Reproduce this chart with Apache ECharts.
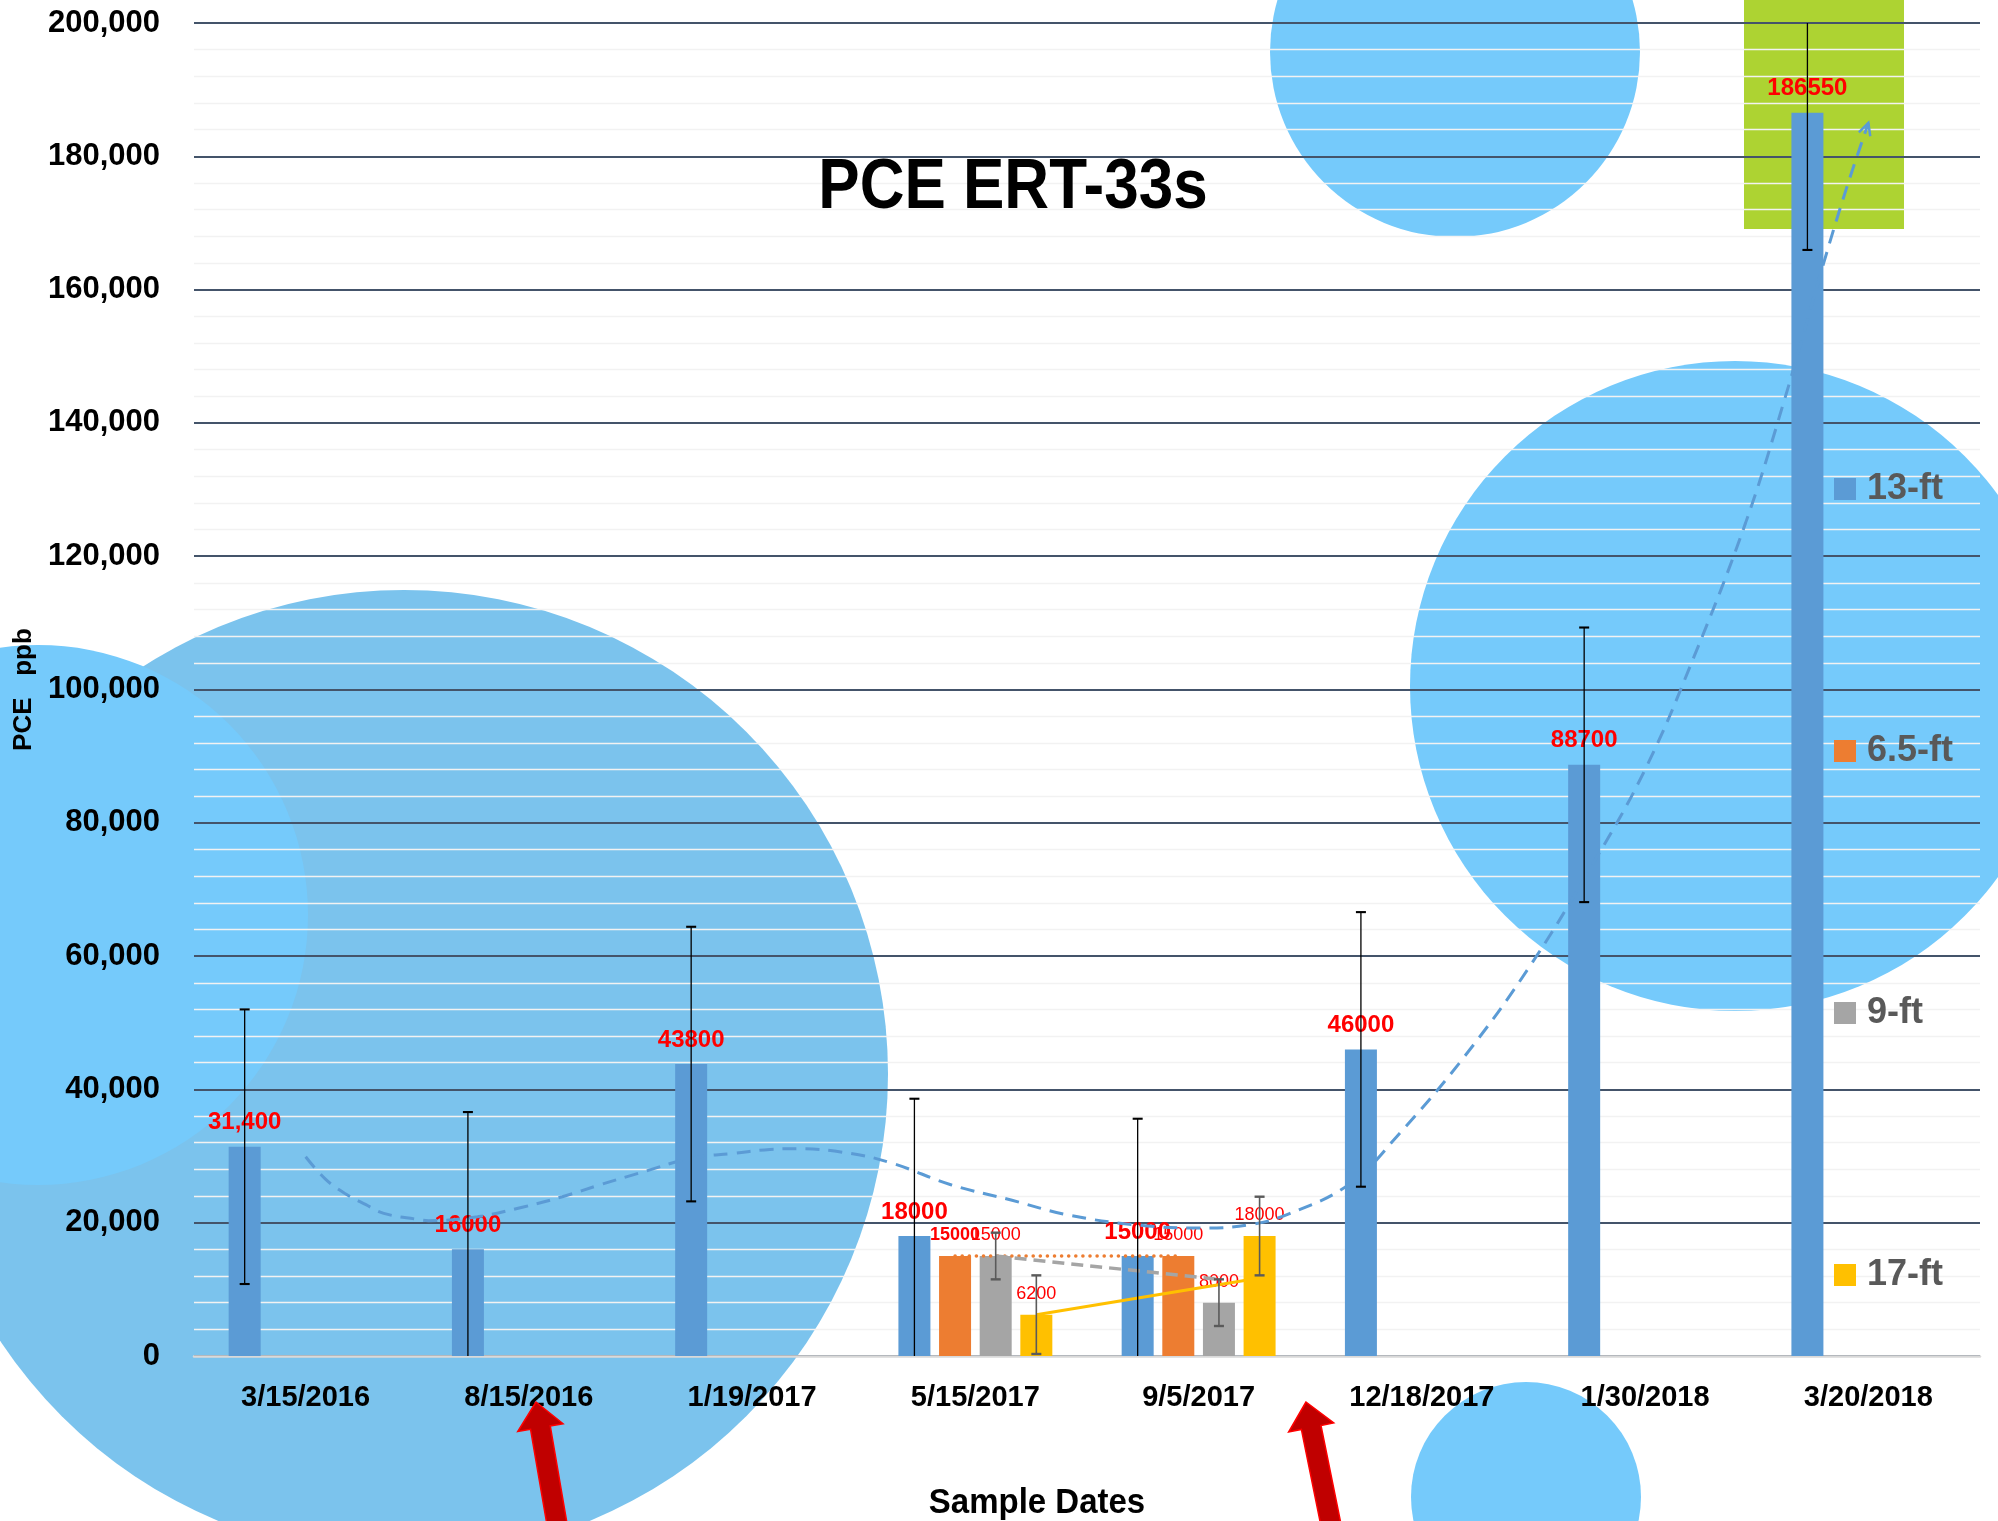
<!DOCTYPE html>
<html>
<head>
<meta charset="utf-8">
<title>PCE ERT-33s</title>
<script src="https://cdn.jsdelivr.net/npm/echarts@6/dist/echarts.min.js"></script>
<style>
  html, body { margin: 0; padding: 0; background: #ffffff; }
  #chart { width: 1998px; height: 1521px; }
</style>
</head>
<body>
<div id="chart"></div>
<script>
// ---- data ----
const categories = ['3/15/2016', '8/15/2016', '1/19/2017', '5/15/2017', '9/5/2017', '12/18/2017', '1/30/2018', '3/20/2018'];
const seriesNames = ['13-ft', '6.5-ft', '9-ft', '17-ft'];
const ft13 = [31400, 16000, 43800, 18000, 15000, 46000, 88700, 186550];
const ft65 = [null, null, null, 15000, 15000, null, null, null];
const ft9  = [null, null, null, 15000, 8000, null, null, null];
const ft17 = [null, null, null, 6200, 18000, null, null, null];
// error bar half-widths (ppb), one per depth
const errorHalf = [20600, 0, 3500, 5900];
// trend of the 13-ft series, x in category units (0 = first date)
const trendX = [0, 0.09, 0.18, 0.27, 0.35, 0.5, 0.55, 0.77, 0.98, 1.15, 1.32, 1.49, 1.73, 1.92, 2.08, 2.2, 2.44, 2.63, 2.89, 3.16, 3.41, 3.71, 4.0, 4.23, 4.41, 4.68, 4.9, 5.19, 5.48, 5.76, 6.0, 6.22, 6.45, 6.62, 6.8, 6.9, 7.0];
const trendY = [29900, 26500, 24300, 22700, 21400, 20500, 20300, 20900, 22400, 23900, 25700, 27400, 29700, 30400, 31000, 31100, 30400, 28900, 25700, 23400, 21200, 19700, 19200, 19700, 21400, 25900, 33400, 44900, 58300, 73500, 88000, 105000, 125000, 143000, 164000, 175000, 185000];
// two-date trends of the shallow/deep samples
const trendDates = [3, 4];
const trend65 = [15000, 15000];
const trend9  = [15000, 11500];
const trend17 = [6200, 11700];
const yTicks = [0, 200000, 20000];

// ---- styling ----
const COLORS = ['#5B9BD5', '#ED7D31', '#A5A5A5', '#FFC000'];
const FONT = '"Liberation Sans", Arial, sans-serif';
const BAR_W = 32;
const BAR_GAP = 27; // percent of bar width
const STEP = BAR_W * (1 + BAR_GAP / 100);
const Y_MIN = yTicks[0], Y_MAX = yTicks[1];

const chart = echarts.init(document.getElementById('chart'), null, { renderer: 'canvas' });

function barLabel(size, weight) {
  return { show: true, position: 'top', distance: 12, color: '#FF0000', fontFamily: FONT, fontSize: size, fontWeight: weight };
}

const data13 = ft13.map((v, i) => i === 0
  ? { value: v, label: { formatter: p => p.value.toLocaleString('en-US') } }
  : v);
const data65 = ft65.map((v, i) => (v != null && i === 3) ? { value: v, label: { fontWeight: 'bold' } } : v);

function barSeries(name, data, idx, label) {
  return {
    name, type: 'bar', data, barWidth: BAR_W, barGap: BAR_GAP + '%',
    itemStyle: { color: COLORS[idx] }, label, z: 2
  };
}

// vertical error bars centred on each bar of one depth
function errorSeries(values, idx, color, width) {
  const data = [];
  values.forEach((v, i) => { if (v != null && errorHalf[idx] > 0) data.push([i, v, errorHalf[idx]]); });
  return {
    type: 'custom', xAxisIndex: 0, yAxisIndex: 0, z: 5, silent: true,
    data,
    renderItem(params, api) {
      const ci = api.value(0), v = api.value(1), e = api.value(2);
      const lo = Math.max(Y_MIN, v - e), hi = Math.min(Y_MAX, v + e);
      const pLo = api.coord([ci, lo]), pHi = api.coord([ci, hi]);
      const x = pLo[0] + (idx - 1.5) * STEP;
      const st = { stroke: color, lineWidth: width };
      const kids = [{ type: 'line', shape: { x1: x, y1: pLo[1], x2: x, y2: pHi[1] }, style: st }];
      if (v + e <= Y_MAX) kids.push({ type: 'line', shape: { x1: x - 5, y1: pHi[1], x2: x + 5, y2: pHi[1] }, style: { stroke: color, lineWidth: width + 0.8 } });
      if (v - e >= Y_MIN) kids.push({ type: 'line', shape: { x1: x - 5, y1: pLo[1], x2: x + 5, y2: pLo[1] }, style: { stroke: color, lineWidth: width + 0.8 } });
      return { type: 'group', children: kids };
    }
  };
}

// straight trend between the two dates, drawn from bar centre to bar centre
function pairTrend(values, idx, lineStyle) {
  return {
    type: 'custom', xAxisIndex: 0, yAxisIndex: 0, z: 4, silent: true,
    data: [[trendDates[0], values[0], trendDates[1], values[1]]],
    renderItem(params, api) {
      const p1 = api.coord([api.value(0), api.value(1)]);
      const p2 = api.coord([api.value(2), api.value(3)]);
      const off = (idx - 1.5) * STEP;
      return { type: 'line', shape: { x1: p1[0] + off, y1: p1[1], x2: p2[0] + off, y2: p2[1] }, style: lineStyle };
    }
  };
}

function circle(cx, cy, r, color, z) {
  return { type: 'circle', shape: { cx, cy, r }, style: { fill: color }, z, silent: true };
}

function arrowShape(tip, tail, shaftHalf, headHalf, headLen) {
  const dx = tail[0] - tip[0], dy = tail[1] - tip[1];
  const L = Math.hypot(dx, dy), ux = dx / L, uy = dy / L, px = -uy, py = ux;
  const b = [tip[0] + ux * headLen, tip[1] + uy * headLen];
  return [tip,
    [b[0] + px * headHalf, b[1] + py * headHalf],
    [b[0] + px * shaftHalf, b[1] + py * shaftHalf],
    [tail[0] + px * shaftHalf, tail[1] + py * shaftHalf],
    [tail[0] - px * shaftHalf, tail[1] - py * shaftHalf],
    [b[0] - px * shaftHalf, b[1] - py * shaftHalf],
    [b[0] - px * headHalf, b[1] - py * headHalf]];
}
function redArrow(tip, tail) {
  return { type: 'polygon', shape: { points: arrowShape(tip, tail, 10, 23, 26) },
    style: { fill: '#C00000', stroke: '#FF0000', lineWidth: 1.5 }, z: 50, silent: true };
}

const option = {
  animation: false,
  backgroundColor: '#ffffff',
  grid: { left: 194, right: 18, top: 23, bottom: 165, containLabel: false },
  legend: {
    data: seriesNames, orient: 'vertical', left: 1829, top: 466,
    itemWidth: 22, itemHeight: 22, itemGap: 226, icon: 'rect',
    textStyle: { fontFamily: FONT, fontSize: 36, fontWeight: 'bold', color: '#595959', padding: [0, 0, 0, 6] }
  },
  xAxis: [{
    type: 'category', data: categories, boundaryGap: true,
    axisLine: { show: true, lineStyle: { color: '#D9D9D9', width: 2.5 } },
    axisTick: { show: false },
    axisLabel: { interval: 0, margin: 27, color: '#000', fontFamily: FONT, fontSize: 29, fontWeight: 'bold' },
    splitLine: { show: false }
  }, {
    type: 'value', min: -0.5, max: 7.5, show: false
  }],
  yAxis: {
    type: 'value', min: yTicks[0], max: yTicks[1], interval: yTicks[2],
    name: 'PCE   ppb', nameLocation: 'middle', nameRotate: 90, nameGap: 157,
    nameTextStyle: { fontFamily: FONT, fontSize: 26, fontWeight: 'bold', color: '#000' },
    axisLine: { show: false }, axisTick: { show: false },
    axisLabel: { margin: 34, color: '#000', fontFamily: FONT, fontSize: 31, fontWeight: 'bold',
      formatter: v => v.toLocaleString('en-US') },
    splitLine: { show: true, lineStyle: { color: '#44546A', width: 2 } },
    minorTick: { show: false, splitNumber: 5 },
    minorSplitLine: { show: true, lineStyle: { color: '#F2F2F2', width: 1.4 } }
  },
  graphic: { elements: [
    // highlight shapes behind the plot
    circle(404, 1074, 484, '#7BC3ED', -20),
    circle(38, 915, 270, '#75CAFB', -19),
    circle(1455, 52, 185, '#75CAFB', -19),
    circle(1735, 686, 325, '#75CAFB', -19),
    circle(1526, 1497, 115, '#75CAFB', -19),
    { type: 'rect', shape: { x: 1744, y: 0, width: 160, height: 229 }, style: { fill: '#ADD332' }, z: -18, silent: true },
    // titles
    { type: 'text', x: 1013, y: 189, scaleY: 1.13, z: 30, silent: true,
      style: { text: 'PCE ERT-33s', fill: '#000', font: 'bold 62px ' + FONT, textAlign: 'center', textVerticalAlign: 'middle' } },
    { type: 'text', x: 1037, y: 1503, scaleY: 1.05, z: 30, silent: true,
      style: { text: 'Sample Dates', fill: '#000', font: 'bold 33px ' + FONT, textAlign: 'center', textVerticalAlign: 'middle' } },
    // pointer arrows
    redArrow([536, 1402], [558, 1530]),
    redArrow([1306, 1402], [1332, 1530])
  ] },
  series: [
    barSeries(seriesNames[0], data13, 0, barLabel(24, 'bold')),
    barSeries(seriesNames[1], data65, 1, barLabel(18, 'normal')),
    barSeries(seriesNames[2], ft9, 2, barLabel(18, 'normal')),
    barSeries(seriesNames[3], ft17, 3, barLabel(18, 'normal')),
    errorSeries(ft13, 0, '#000000', 1.3),
    errorSeries(ft9, 2, '#5A5A5A', 1.6),
    errorSeries(ft17, 3, '#5A5A5A', 1.6),
    pairTrend(trend65, 1, { stroke: COLORS[1], lineWidth: 3.5, lineDash: [0.1, 7], lineCap: 'round' }),
    pairTrend(trend9, 2, { stroke: COLORS[2], lineWidth: 3.5, lineDash: [12, 7] }),
    pairTrend(trend17, 3, { stroke: COLORS[3], lineWidth: 3 }),
    {
      type: 'line', xAxisIndex: 1, yAxisIndex: 0, z: 4, silent: true,
      data: trendX.map((x, i) => [x, trendY[i]]),
      smooth: 0.4, symbol: 'none',
      lineStyle: { color: COLORS[0], width: 3, type: [14, 9] }
    },
    {
      // open arrow head at the end of the 13-ft trend
      type: 'custom', xAxisIndex: 1, yAxisIndex: 0, z: 4, silent: true,
      data: [[trendX[trendX.length - 1], trendY[trendY.length - 1], trendX[trendX.length - 2], trendY[trendY.length - 2]]],
      renderItem(params, api) {
        const p2 = api.coord([api.value(0), api.value(1)]);
        const p1 = api.coord([api.value(2), api.value(3)]);
        const L = Math.hypot(p2[0] - p1[0], p2[1] - p1[1]);
        const ux = (p2[0] - p1[0]) / L, uy = (p2[1] - p1[1]) / L, px = -uy, py = ux;
        const back = 12, half = 6;
        return { type: 'polyline', shape: { points: [
          [p2[0] - ux * back + px * half, p2[1] - uy * back + py * half], p2,
          [p2[0] - ux * back - px * half, p2[1] - uy * back - py * half]] },
          style: { stroke: COLORS[0], lineWidth: 2.5, fill: null } };
      }
    }
  ]
};
chart.setOption(option);
</script>
</body>
</html>
